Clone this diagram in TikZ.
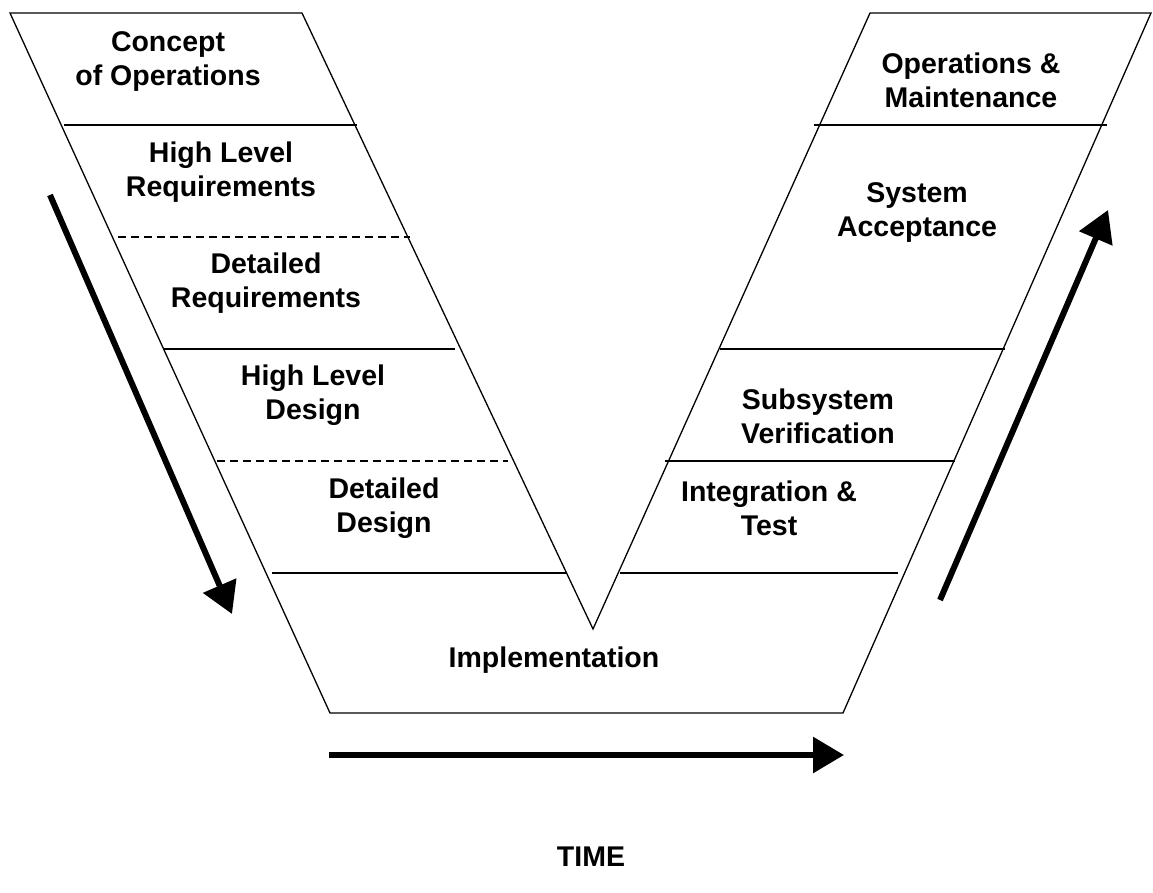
\documentclass[tikz,border=0pt]{standalone}
\usepackage{fontspec}
\setmainfont{Liberation Sans}
\usetikzlibrary{arrows.meta}

\tikzset{
	phase/.style={font=\fontsize{28.5}{34}\selectfont\bfseries, align=center},
	flow/.style={line width=6pt, -{Triangle[length=31pt,width=35pt]}},
	split/.style={dash pattern=on 8pt off 5pt},
}

\begin{document}
\begin{tikzpicture}[x=1pt,y=-1pt,line width=1.3pt]
\useasboundingbox (0,0) rectangle (1153,893);

% Outline of the V
\coordinate (LTO) at (10,13);   % left band, top outer
\coordinate (LTI) at (302,13);  % left band, top inner
\coordinate (TIP) at (593,629); % bottom point of the V
\coordinate (RTI) at (870,13);  % right band, top inner
\coordinate (RTO) at (1151,13); % right band, top outer
\coordinate (BL) at (330,713);  % bottom left corner
\coordinate (BR) at (843,713);  % bottom right corner
\draw[line join=miter] (LTI) -- (LTO) -- (BL) -- (BR) -- (RTO) -- (RTI) -- (TIP) -- cycle;

% Phase borders, left band
\draw (64,125) -- (357,125);
\draw[split] (118,237) -- (410,237);
\draw (163,349) -- (455,349);
\draw[split] (217,461) -- (508,461);
\draw (272,573) -- (567,573);
% Phase borders, right band
\draw (814,125) -- (1107,125);
\draw (720,349) -- (1005,349);
\draw (665,461) -- (955,461);
\draw (620,573) -- (898,573);

% Phase labels
\node[phase] (CONOPS) at (168,62) {Concept\\of Operations};
\node[phase] (HLREQ) at (221,172) {High Level\\Requirements};
\node[phase] (DETREQ) at (266,283) {Detailed\\Requirements};
\node[phase] (HLDES) at (313,395) {High Level\\Design};
\node[phase] (DETDES) at (384,508) {Detailed\\Design};
\node[phase] (IMPL) at (554,660) {Implementation};
\node[phase] (OPMAIN) at (971,80) {Operations \&\\Maintenance};
\node[phase] (SYSACC) at (917,213) {System\\Acceptance};
\node[phase] (SUBVER) at (818,416) {Subsystem\\Verification};
\node[phase] (INTTEST) at (769,508) {Integration \&\\Test};
\node[phase] (TIME) at (591,857) {TIME};

% Direction of work
\coordinate (DOWN1) at (50,195);
\coordinate (DOWN2) at (232,614);
\coordinate (UP1) at (940,600);
\coordinate (UP2) at (1108,210);
\coordinate (T1) at (329,755);
\coordinate (T2) at (844,755);
\draw[flow] (DOWN1) -- (DOWN2);
\draw[flow] (UP1) -- (UP2);
\draw[flow] (T1) -- (T2);
\end{tikzpicture}
\end{document}
